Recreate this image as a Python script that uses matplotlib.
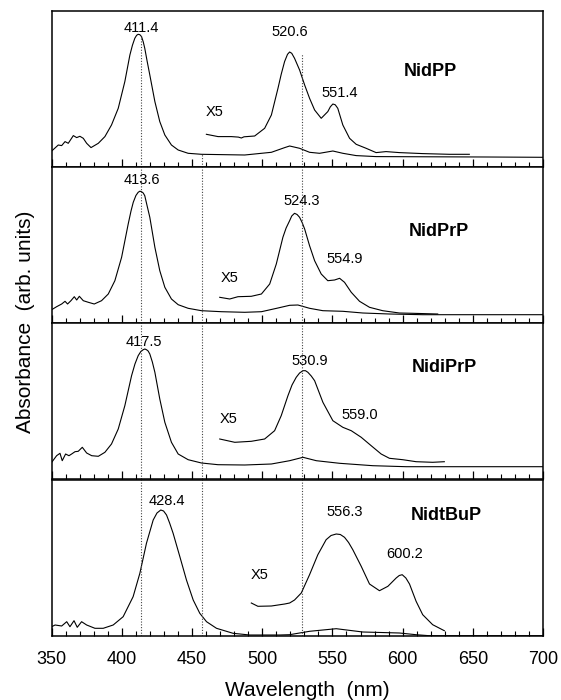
import matplotlib
matplotlib.use("Agg")
import matplotlib.pyplot as plt
from matplotlib.ticker import MultipleLocator

plt.rcParams['font.family'] = ['Liberation Sans', 'DejaVu Sans']

# ---------------- data (wavelength nm, absorbance arb. units) ----------------
names = ["NidPP", "NidPrP", "NidiPrP", "NidtBuP"]

p1_wl = [350, 354.7, 357.1, 359.5, 361.8, 365.4, 367.8, 370.1, 372.5, 374.9, 378, 383.2,
         387.9, 392.6, 397.4, 402.1, 405.7, 407.5, 409.2, 410.5, 411.6, 412.8, 414, 415.2,
         416.3, 418, 419.9, 423.5, 427,
         430.6, 435.3, 440.1, 447.2, 456.7, 487.5, 506.5, 516, 519.5, 526.6, 533.7, 540.8,
         550.3, 557.4, 566.9, 581.1, 620, 660, 700]
p1_ab = [16.3, 22.3, 21.7, 25.7, 24, 31.7, 29.7, 31, 29, 24, 19.7, 24,
         30.7, 42.3, 59, 85.7, 112.3, 122, 129, 132, 133, 132.6, 130.7, 125.5,
         119, 106, 92.3, 65.7, 45.7,
         32.3, 22.3, 17.3, 14, 13, 12.3, 15, 19.7, 21.3, 19, 15, 14,
         16.3, 14, 11.7, 10.7, 10.5, 10.3, 10]
p1_x5_wl = [460.2, 468.5, 478, 483, 485.1, 487, 494.6, 501.7, 506.5, 511.2, 513.5, 515.9,
            518, 519.5, 521, 523, 526.6, 530.2, 533.7, 537.3, 542, 546.7, 548.5, 550.3,
            552, 553.8, 557.4, 562.2, 566.9, 574, 581.1, 588.2, 597.7, 614.3, 633.3, 647.5]
p1_x5_ab = [33, 30.7, 30.7, 30.2, 29.3, 30.5, 31.3, 39, 52.3, 79, 93, 105.7,
            113, 115.3, 114, 109, 97.3, 82.3, 69, 57.3, 49, 55.7, 60.5, 63.3,
            62.5, 59, 42.3, 29, 23, 19, 14.7, 15.7, 14.7, 13.7, 13, 13]

p2_wl = [350, 353.5, 357.1, 359.5, 361.3, 363.7, 366.1, 367.8, 369.7, 372.5, 376.1, 380.3,
         385.5, 390.3, 395.0, 399.8, 404.5, 406.5, 408.1, 410, 411.6, 412.8, 414.0, 415.2,
         416.3, 418, 419.9, 423.5,
         427.0, 430.6, 435.3, 440.1, 447.2, 456.7, 470.9, 487.5, 499.4, 511.2, 519.5, 525.4,
         533.7, 543.2, 557.4, 571.6, 590.6, 614.3, 661.7, 700]
p2_ab = [13.3, 16.3, 19, 21.7, 19, 22.3, 26.3, 23, 26.7, 22.3, 20.7, 19,
         22.3, 29, 42.3, 65.7, 99, 112, 120.7, 127.5, 130.7, 131.8, 131.3, 130,
         127.3, 117, 105.7, 75.7,
         52.3, 35.7, 24, 18.3, 14.7, 12.3, 11.3, 10.7, 11.3, 15, 17.7, 18,
         14.7, 12.3, 11.7, 10, 9, 8.3, 8.3, 8.3]
p2_x5_wl = [469.7, 476.8, 482.7, 492.2, 499.4, 505.3, 510, 514.7, 517, 519.5, 521, 523,
            524.8, 526.6, 528.4, 530.2,
            533.7, 537.3, 542, 546.7, 551.5, 555.1, 558.6, 563.4, 569.3, 576.4, 585.8, 597.7,
            607.2, 625]
p2_x5_ab = [25.7, 24, 26.3, 26.7, 29, 39, 59, 85.7, 95, 102.3, 107, 109.7,
            108.5, 105.7, 100.5, 94,
            77.3, 62.3, 49, 42.3, 43, 44.7, 40.7, 30.7, 21.7, 15.7, 12.3, 10,
            9.7, 9]

p3_wl = [350, 353.5, 355.9, 357.5, 359.9, 362.3, 364.2, 366.6, 368.9, 371.8, 374.9, 378.5,
         383.2, 387.9, 392.6, 397.4, 402.1, 406.9, 409.3, 411.6, 413.5, 415.2, 416.4, 417.5,
         418.7, 419.9, 421.7, 423.5, 427.0,
         430.6, 435.3, 440.1, 447.2, 456.7, 468.5, 487.5, 506.5, 519.5, 529, 538.5, 555.1,
         578.8, 602.5, 638, 700]
p3_ab = [16.7, 23.3, 25.7, 18.3, 25, 23.3, 25, 27.3, 27.7, 31.7, 26, 23.3,
         22.7, 26.7, 35, 50, 73.3, 103.3, 115, 123.3, 127.5, 129.3, 130, 129.3,
         128, 125, 117, 106.7, 80,
         56.7, 36.7, 25, 19.3, 16, 14.3, 14, 15, 18.3, 21.7, 18.3, 15.7,
         13.3, 12.3, 12.3, 12.3]
p3_x5_wl = [469.7, 480.4, 492.2, 501.7, 508.8, 513.5, 518.3, 521.2, 524.2, 526.6, 529, 530.8,
            532.5, 534.9, 537.3, 543.2,
            550.3, 557.4, 563.4, 570.5, 577.6, 584.7, 590.6, 600.1, 609.6, 621.4, 629.7]
p3_x5_ab = [40, 36.7, 37.7, 40, 48.3, 63.3, 83.3, 94, 101.7, 106, 108.3, 108.3,
            106.7, 103, 98.3, 76.7,
            58.3, 51.7, 48.3, 41.7, 33.3, 25, 20.7, 19.3, 17.3, 16.7, 17.3]

p4_wl = [350, 352.4, 357.1, 360.7, 363.0, 365.9, 368.2, 371.3, 374.9, 380.8, 386.7, 393.8,
         400.9, 408.0, 412.8, 417.5, 422.3, 425, 427.7, 429.7, 431.8, 434, 436.5, 441.3,
         446.0, 450.8, 455.5,
         460.3, 467.4, 479.2, 491.1, 512.4, 519.5, 533.7, 552.7, 571.6, 597.7, 609.6, 619, 700]
p4_ab = [9.3, 11, 10, 14.3, 9.3, 15.3, 8.7, 14.3, 11, 7.7, 7.7, 11,
         19.3, 39.3, 62.7, 92.7, 116, 123, 126, 125, 121, 113, 102.7, 79.3,
         56, 36, 22.7,
         14.3, 7.7, 2.7, 1, 1, 1.3, 4.7, 7.3, 4, 3, 1.3, 0.3, 0.3]
p4_x5_wl = [492.2, 496.9, 506.5, 516, 519.5, 523, 527.8, 533.7, 539.6, 545.5, 549, 552.7,
            555.6, 558.6, 561.5, 564.5, 570.5, 576.4, 583.5, 589.5, 595.4, 597.6, 599.7,
            602.3, 604.9, 609.6, 614.3, 621.4, 629.7]
p4_x5_ab = [33, 29.7, 30, 32, 33, 36, 43, 61.3, 81.3, 96.3, 100.5, 102,
            101.5, 98.7, 93.5, 86.3, 69.7, 52, 45.3, 49.7, 58, 60.5, 61.3,
            58, 52, 34.7, 21.3, 11.3, 5.3]

# peak labels: (text, x position nm, y position)
p1_peaks = [("411.4", 414, 139), ("520.6", 519.5, 135), ("551.4", 555, 74)]
p2_peaks = [("413.6", 414, 143), ("524.3", 528.3, 122), ("554.9", 558.6, 64)]
p3_peaks = [("417.5", 415.6, 137), ("530.9", 534.2, 118), ("559.0", 569.3, 64)]
p4_peaks = [("428.4", 431.8, 135), ("556.3", 558.6, 124), ("600.2", 601.3, 82)]

name_pos = [(620, 96), (626, 92), (630, 112), (631, 121)]
x5_pos = [(466, 55), (476.8, 45), (476.3, 60), (498, 61)]

# dotted guide lines (nm) and their start height in the top panel
guide_wl = [413.3, 457.3, 528.3]
guide_top = [131, 13, 113]

# ---------------- figure ----------------
W, H = 561, 700
fig = plt.figure(figsize=(W / 100, H / 100), dpi=100)

left_px, right_px = 51.7, 543
tops = [11.3, 167, 323, 480]
ph = 156

panels = [
    (p1_wl, p1_ab, p1_x5_wl, p1_x5_ab, p1_peaks),
    (p2_wl, p2_ab, p2_x5_wl, p2_x5_ab, p2_peaks),
    (p3_wl, p3_ab, p3_x5_wl, p3_x5_ab, p3_peaks),
    (p4_wl, p4_ab, p4_x5_wl, p4_x5_ab, p4_peaks),
]

for i, (wl, ab, xwl, xab, peaks) in enumerate(panels):
    top = tops[i]
    ax = fig.add_axes([left_px / W, 1 - (top + ph) / H, (right_px - left_px) / W, ph / H])
    ax.plot(wl, ab, color='black', lw=0.8)
    ax.plot(xwl, xab, color='black', lw=0.8)
    ax.set_xlim(350, 700)
    ax.set_ylim(0, ph)
    ax.set_yticks([])
    for s in ax.spines.values():
        s.set_linewidth(1.1)
    ax.xaxis.set_major_locator(MultipleLocator(50))
    ax.xaxis.set_minor_locator(MultipleLocator(10))
    ax.tick_params(axis='x', which='major', direction='in', length=6, width=0.9,
                   labelsize=13, pad=10.5)
    ax.tick_params(axis='x', which='minor', direction='in', length=3.5, width=0.8)
    if i < 3:
        ax.tick_params(axis='x', which='both', labelbottom=False)

    for gx, gt in zip(guide_wl, guide_top):
        ymax = gt / ph if i == 0 else 1.0
        ax.axvline(gx, ymin=0, ymax=ymax, color='#444444', lw=0.8,
                   linestyle=(0, (1, 1.5)))

    for txt, px, py in peaks:
        ax.text(px, py, txt, ha='center', va='center', fontsize=10.5)
    nx, ny = name_pos[i]
    ax.text(nx, ny, names[i], ha='center', va='center', fontsize=13, fontweight='bold')
    xx, xy = x5_pos[i]
    ax.text(xx, xy, "X5", ha='center', va='center', fontsize=10.5)

fig.text(307 / W, 1 - 690 / H, "Wavelength  (nm)", ha='center', va='center', fontsize=15)
fig.text(26 / W, 1 - 322 / H, "Absorbance  (arb. units)", ha='center', va='center',
         rotation=90, fontsize=15)

fig.savefig("out.png", dpi=100)
